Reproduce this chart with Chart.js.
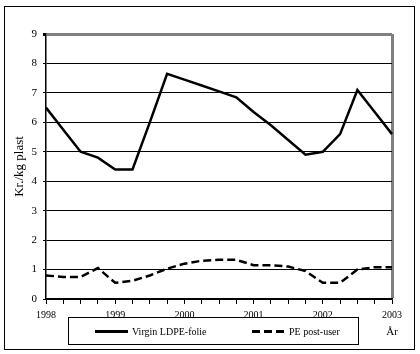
<!DOCTYPE html>
<html>
<head>
<meta charset="utf-8">
<script src="https://cdn.jsdelivr.net/npm/chart.js@4"></script>
<style>
  body { margin: 0; background: #fff; }
  #graf { display: block; }
</style>
</head>
<body>
<canvas id="graf" width="420" height="354"></canvas>
<script>
/* data - kvartalsvis 1998-2003 */
const kvartaler = ['1998','','','','1999','','','','2000','','','','2001','','','','2002','','','','2003'];
const virginLdpe = [6.5, 5.75, 5.0, 4.8, 4.4, 4.4, 6.0, 7.65, 7.45, 7.25, 7.05, 6.85, 6.35, 5.9, 5.4, 4.9, 5.0, 5.6, 7.1, 6.35, 5.6];
const pePostUser = [0.8, 0.75, 0.75, 1.05, 0.55, 0.62, 0.8, 1.03, 1.2, 1.3, 1.33, 1.33, 1.15, 1.15, 1.1, 0.95, 0.55, 0.55, 1.0, 1.08, 1.08];
const serier = ['Virgin LDPE-folie', 'PE post-user'];

const serif = 'Liberation Serif';

/* ramme, legende og aksetekst */
const rammePlugin = {
  id: 'ramme',
  beforeDraw(chart) {
    const ctx = chart.ctx;
    ctx.save();
    ctx.fillStyle = '#fff';
    ctx.fillRect(0, 0, chart.width, chart.height);
    ctx.restore();
  },
  afterDraw(chart) {
    const ctx = chart.ctx;
    ctx.save();
    ctx.strokeStyle = '#000';
    ctx.lineWidth = 1;
    ctx.strokeRect(4.5, 6.5, 410, 343);
    ctx.strokeRect(68.5, 317.5, 290, 27);

    // legende
    const pos = [95, 252];
    chart.data.datasets.forEach((ds, i) => {
      const x = pos[i];
      ctx.beginPath();
      ctx.lineWidth = 3;
      ctx.strokeStyle = ds.borderColor;
      ctx.setLineDash(ds.borderDash || []);
      ctx.moveTo(x, 331.5);
      ctx.lineTo(x + 33, 331.5);
      ctx.stroke();
      ctx.setLineDash([]);
      ctx.fillStyle = '#000';
      ctx.font = '10px "' + serif + '"';
      ctx.textBaseline = 'middle';
      ctx.fillText(ds.label, x + 37, 332);
    });

    ctx.font = '11px "' + serif + '"';
    ctx.textAlign = 'center';
    ctx.textBaseline = 'middle';
    ctx.fillText('År', 392, 332);
    ctx.restore();
  }
};

const ctx = document.getElementById('graf');
new Chart(ctx, {
  type: 'line',
  data: {
    labels: kvartaler,
    datasets: [{
      label: serier[0],
      data: virginLdpe,
      borderColor: '#000',
      borderWidth: 2.5,
      pointRadius: 0,
      tension: 0
    },
    {
      label: serier[1],
      data: pePostUser,
      borderColor: '#000',
      borderWidth: 2.5,
      borderDash: [8, 4],
      pointRadius: 0,
      tension: 0
    }]
  },
  options: {
    responsive: false,
    animation: false,
    layout: {
      padding: { left: 0, top: 34, right: 28, bottom: 0 }
    },
    plugins: {
      legend: { display: false },
      tooltip: { enabled: false }
    },
    scales: {
      x: {
        offset: false,
        afterFit: function(scale) { scale.height = 55; },
        border: { color: '#000', width: 1.5 },
        grid: {
          drawOnChartArea: true,
          color: function(c) { return c.index === 20 ? '#808080' : 'rgba(0,0,0,0)'; },
          lineWidth: function(c) { return c.index === 20 ? 3 : 1; },
          tickColor: '#000',
          tickWidth: 1,
          tickLength: 5
        },
        ticks: {
          autoSkip: false,
          maxRotation: 0,
          padding: 5,
          color: '#000',
          font: { family: serif, size: 10 }
        }
      },
      y: {
        min: 0,
        max: 9,
        afterFit: function(scale) { scale.width = 46; },
        border: { color: '#000', width: 1.5 },
        grid: {
          color: function(c) { return c.tick.value === 9 ? '#808080' : '#000'; },
          lineWidth: function(c) { return c.tick.value === 9 ? 3 : 1; },
          tickColor: '#000',
          tickLength: 3
        },
        ticks: {
          stepSize: 1,
          padding: 6,
          color: '#000',
          font: { family: serif, size: 11 }
        },
        title: {
          display: true,
          text: 'Kr./kg plast',
          color: '#000',
          padding: { top: 12, bottom: 0 },
          font: { family: serif, size: 13 }
        }
      }
    }
  },
  plugins: [rammePlugin]
});
</script>
</body>
</html>
